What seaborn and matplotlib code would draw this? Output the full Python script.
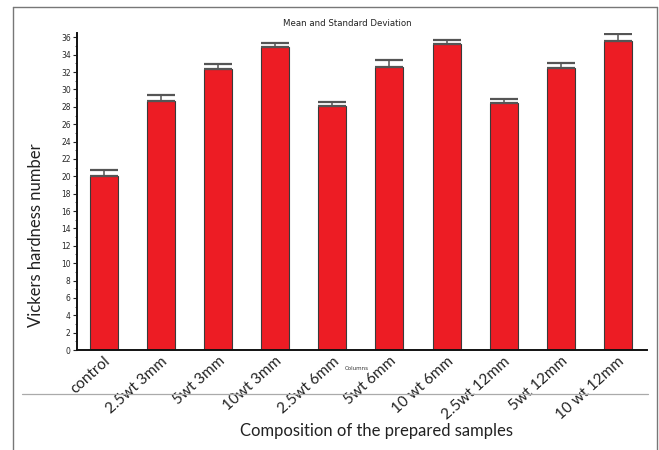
import matplotlib
matplotlib.use("Agg")
import matplotlib.pyplot as plt
import matplotlib.lines as mlines
from matplotlib.ticker import MultipleLocator
import numpy as np
import seaborn as sns

# Sample groups and measured Vickers hardness (mean, standard deviation)
samples = ["control", "2.5wt 3mm", "5wt 3mm", "10wt 3mm", "2.5wt 6mm",
           "5wt 6mm", "10 wt 6mm", "2.5wt 12mm", "5wt 12mm", "10 wt 12mm"]
mean_hv = [20.0, 28.7, 32.4, 34.9, 28.1, 32.6, 35.2, 28.4, 32.5, 35.6]
sd_hv = [0.7, 0.7, 0.5, 0.5, 0.5, 0.8, 0.5, 0.5, 0.5, 0.8]
y_ticks = list(range(0, 37, 2))

sns.set_theme(style="white")
plt.rcParams["font.family"] = ["Lato", "DejaVu Sans"]

fig = plt.figure(figsize=(6.59, 4.50), dpi=100)
ax = fig.add_axes([77 / 659, 1 - 350 / 450, 570 / 659, (350 - 33) / 450])

sns.barplot(x=samples, y=mean_hv, color="#ED1C24", edgecolor="#3a3a3a",
            linewidth=0.8, width=0.49, saturation=1, ax=ax)

# one-sided (upper) standard deviation whiskers
xpos = np.arange(len(samples))
ax.errorbar(xpos, mean_hv, yerr=[np.zeros(len(sd_hv)), sd_hv], fmt="none",
            ecolor="#555555", elinewidth=1.1, capsize=10, capthick=1.6, zorder=5)

ax.set_xlim(-0.47, 9.51)
ax.set_ylim(0, 36.5)
ax.set_yticks(y_ticks)
ax.set_yticklabels([str(t) for t in y_ticks],
                   fontdict={"family": ["Liberation Sans Narrow", "DejaVu Sans"],
                             "size": 5.5})
ax.yaxis.set_minor_locator(MultipleLocator(1))
ax.tick_params(axis="y", which="major", left=True, length=3, width=0.8,
               color="#222222", pad=1.5)
ax.tick_params(axis="y", which="minor", left=True, length=1.5, width=0.6,
               color="#444444")
ax.tick_params(axis="x", bottom=False, pad=-3)

for side in ("top", "right"):
    ax.spines[side].set_visible(False)
for side in ("left", "bottom"):
    ax.spines[side].set_color("#111111")
    ax.spines[side].set_linewidth(1.4)

for lbl in ax.get_xticklabels():
    lbl.set_rotation(42)
    lbl.set_ha("right")
    lbl.set_va("top")
    lbl.set_rotation_mode("anchor")
    lbl.set_fontsize(11)
    lbl.set_color("#222222")

ax.set_xlabel("")
ax.set_ylabel("")

# labels and title placed in figure coordinates
fig.text(347 / 659, 1 - 24 / 450, "Mean and Standard Deviation", ha="center",
         va="center", fontsize=6.2, color="#222222",
         family=["Liberation Sans Narrow", "DejaVu Sans"])
fig.text(357 / 659, 1 - 368 / 450, "Columns", ha="center", va="center",
         fontsize=4, color="#333333",
         family=["Liberation Sans Narrow", "DejaVu Sans"])
fig.text(36 / 659, 1 - 235 / 450, "Vickers hardness number", rotation=90,
         ha="center", va="center", fontsize=12, color="#222222")
fig.text(376 / 659, 1 - 431 / 450, "Composition of the prepared samples",
         ha="center", va="center", fontsize=12, color="#222222")

# outer frame and separator line
fig.add_artist(mlines.Line2D([13 / 659, 13 / 659], [0, 1 - 7 / 450],
                             color="#777777", lw=1.0))
fig.add_artist(mlines.Line2D([13 / 659, 657 / 659], [1 - 7 / 450, 1 - 7 / 450],
                             color="#777777", lw=1.0))
fig.add_artist(mlines.Line2D([657 / 659, 657 / 659], [0, 1 - 7 / 450],
                             color="#777777", lw=1.0))
fig.add_artist(mlines.Line2D([22 / 659, 648 / 659], [1 - 394 / 450, 1 - 394 / 450],
                             color="#aaaaaa", lw=0.9))

fig.savefig("out.png", dpi=100, facecolor="white")
